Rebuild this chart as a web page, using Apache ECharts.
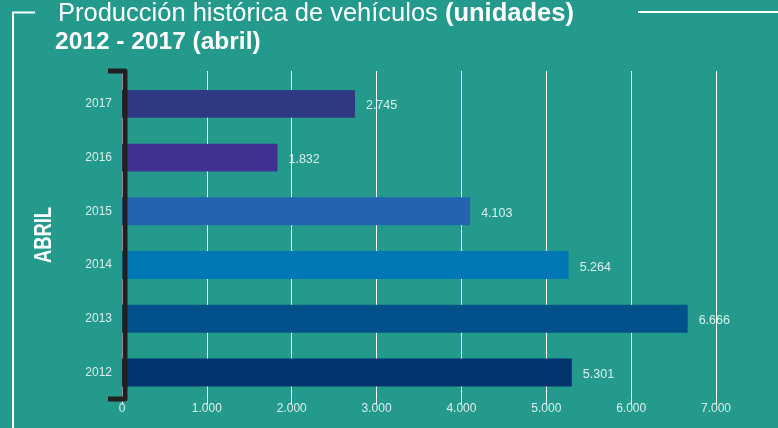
<!DOCTYPE html>
<html>
<head>
<meta charset="utf-8">
<script src="https://cdn.jsdelivr.net/npm/echarts@6/dist/echarts.min.js"></script>
<style>
  html, body { margin: 0; padding: 0; background: #239a8c; }
  #chart { width: 778px; height: 428px; }
</style>
</head>
<body>
<div id="chart"></div>
<script>
// data
const years = ['2012', '2013', '2014', '2015', '2016', '2017']
const units = [5301, 6666, 5264, 4103, 1832, 2745]
const xTicks = [0, 1000, 2000, 3000, 4000, 5000, 6000, 7000]

const barColors = ['#04346f', '#03518a', '#0078b6', '#2363af', '#42308f', '#2f3883']
const textColor = '#dcefec'
const font = "'Liberation Sans', Arial, sans-serif"

function fmt(v) {
  return String(v).replace(/\B(?=(\d{3})+(?!\d))/g, '.')
}

const chart = echarts.init(document.getElementById('chart'))

const option = {
  backgroundColor: '#239a8c',
  animation: false,
  grid: { left: 122, right: 62, top: 77, bottom: 28.6 },
  xAxis: [
    {
      type: 'value',
      min: xTicks[0],
      max: xTicks[xTicks.length - 1],
      interval: 1000,
      axisLine: { show: false },
      axisTick: { show: true, length: 5, lineStyle: { color: '#ffffff', width: 1 } },
      axisLabel: {
        color: textColor,
        fontSize: 12,
        fontFamily: font,
        margin: 3,
        formatter: fmt
      },
      splitLine: { show: true, lineStyle: { color: '#ffffff', width: 1 } }
    },
    {
      type: 'value',
      position: 'top',
      min: xTicks[0],
      max: xTicks[xTicks.length - 1],
      interval: 1000,
      axisLine: { show: false },
      axisTick: { show: true, length: 6, lineStyle: { color: '#ffffff', width: 1 } },
      axisLabel: { show: false },
      splitLine: { show: false }
    }
  ],
  yAxis: {
    type: 'category',
    data: years,
    axisLine: { show: false },
    axisTick: { show: false },
    axisLabel: {
      color: textColor,
      fontSize: 12,
      fontFamily: font,
      margin: 10
    }
  },
  series: [
    {
      type: 'bar',
      data: units.map((v, i) => ({ value: v, itemStyle: { color: barColors[i] } })),
      barCategoryGap: '48%',
      label: {
        show: true,
        position: 'right',
        distance: 11,
        offset: [0, 2],
        color: textColor,
        fontSize: 12.5,
        fontFamily: font,
        formatter: p => fmt(p.value)
      },
      z: 3
    }
  ],
  graphic: [
    // frame lines
    {
      type: 'polyline',
      shape: { points: [[35, 12.5], [13, 12.5], [13, 428]] },
      style: { stroke: '#ffffff', lineWidth: 2, fill: null },
      z: 10
    },
    {
      type: 'line',
      shape: { x1: 638, y1: 12, x2: 778, y2: 12 },
      style: { stroke: '#ffffff', lineWidth: 2 },
      z: 10
    },
    // bracket
    {
      type: 'polyline',
      shape: { points: [[108, 71], [125, 71], [125, 399], [108, 399]] },
      style: { stroke: '#231f20', lineWidth: 5, fill: null, lineJoin: 'round' },
      z: 100
    },
    {
      type: 'text',
      x: 45,
      y: 235,
      rotation: Math.PI / 2,
      scaleX: 0.8,
      style: {
        text: 'ABRIL',
        fill: '#ffffff',
        font: "bold 23px 'Liberation Sans', Arial, sans-serif",
        align: 'center',
        verticalAlign: 'middle'
      },
      z: 10
    },
    {
      type: 'text',
      x: 58,
      y: 14,
      style: {
        text: '{n|Producción histórica de vehículos }{b|(unidades)}',
        verticalAlign: 'middle',
        rich: {
          n: { fontSize: 25.5, fontFamily: font, fill: '#ffffff', fontWeight: 'normal' },
          b: { fontSize: 25.5, fontFamily: font, fill: '#ffffff', fontWeight: 'bold' }
        }
      },
      z: 10
    },
    {
      type: 'text',
      x: 55,
      y: 42,
      style: {
        text: '2012 - 2017 (abril)',
        fill: '#ffffff',
        font: "bold 24.5px 'Liberation Sans', Arial, sans-serif",
        verticalAlign: 'middle'
      },
      z: 10
    }
  ]
}

option && chart.setOption(option)
</script>
</body>
</html>
